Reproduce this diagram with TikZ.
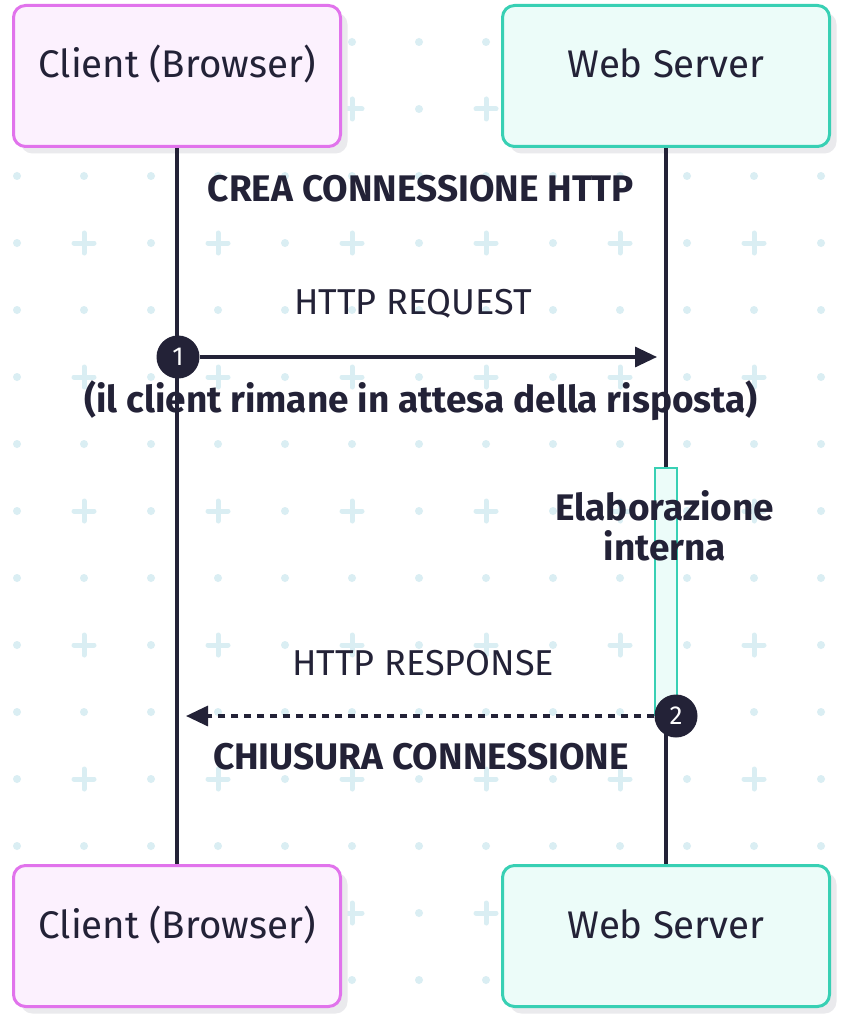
\documentclass[tikz,border=0pt]{standalone}
\usepackage{fontspec}
\setmainfont{Fira Sans}
\usetikzlibrary{arrows.meta,shadows}
\definecolor{inkdark}{RGB}{35, 34, 55}
\definecolor{clientpink}{RGB}{225, 115, 236}
\definecolor{clientfill}{RGB}{252, 241, 254}
\definecolor{serverteal}{RGB}{56, 208, 180}
\definecolor{serverfill}{RGB}{236, 252, 249}
\definecolor{gridblue}{RGB}{218, 238, 243}
\definecolor{shadowgray}{RGB}{234, 234, 237}

\begin{document}
\begin{tikzpicture}[x=1pt, y=-1pt,
    actor/.style={draw, line width=3pt, rounded corners=12pt, minimum width=327pt,
        minimum height=141pt, text height=32pt, text depth=28pt, text=inkdark,
        font=\fontsize{38.5}{42}\selectfont,
        drop shadow={shadow xshift=7pt, shadow yshift=-7pt, fill=shadowgray, opacity=1}},
    lifeline/.style={draw=inkdark, line width=3.3pt},
    msg/.style={draw=inkdark, line width=3.3pt, -{Triangle[length=22pt,width=20pt]}},
    seqnum/.style={circle, fill=inkdark, text=white, minimum size=43pt, inner sep=0pt,
        font=\fontsize{26}{30}\selectfont},
    msgtext/.style={text=inkdark, font=\fontsize{36}{40}\selectfont},
    notetext/.style={text=inkdark, font=\fontsize{37}{40}\selectfont\bfseries, align=center}]
    \useasboundingbox[fill=white] (0,0) rectangle (851,1024);

    % background pattern
    \foreach \i in {0,...,12} {
        \foreach \j in {0,...,14} {
            \pgfmathparse{int(mod(\i,2)*mod(\j,2))}
            \ifnum\pgfmathresult=1
                \draw[gridblue, line width=5pt, line cap=round]
                    (17+67*\i-10, 42+67*\j) -- (17+67*\i+10, 42+67*\j)
                    (17+67*\i, 42+67*\j-10) -- (17+67*\i, 42+67*\j+10);
            \else
                \fill[gridblue] (17+67*\i, 42+67*\j) circle (4pt);
            \fi
        }
    }

    % participants
    \node[actor, draw=clientpink, fill=clientfill] (clienttop) at (177, 76) {Client (Browser)};
    \node[actor, draw=serverteal, fill=serverfill] (servertop) at (666, 76) {Web Server};
    \node[actor, draw=clientpink, fill=clientfill] (clientbot) at (177, 936) {Client (Browser)};
    \node[actor, draw=serverteal, fill=serverfill] (serverbot) at (666, 936) {Web Server};

    % lifelines
    \draw[lifeline] (clienttop) -- (clientbot);
    \draw[lifeline] (servertop) -- (serverbot);

    % activation
    \node[draw=serverteal, fill=serverfill, line width=2pt, minimum width=22pt,
        minimum height=247pt, inner sep=0pt] (busy) at (666, 591.5) {};

    % messages
    \node[notetext] (open) at (421, 189) {CREA CONNESSIONE HTTP};
    \node[msgtext] (reqlabel) at (413, 304) {HTTP REQUEST};
    \node[seqnum] (n1) at (178, 357) {1};
    \coordinate (reqend) at (657, 357);
    \draw[msg] (n1.east) -- (reqend);
    \node[notetext] (wait) at (421, 401) {(il client rimane in attesa della risposta)};

    \node[notetext] (work) at (665, 526) {Elaborazione\\interna};

    \node[msgtext] (resplabel) at (423, 663) {HTTP RESPONSE};
    \node[seqnum] (n2) at (676, 716) {2};
    \coordinate (respend) at (186, 716);
    \draw[msg, dash pattern=on 7pt off 6pt] (n2.west) -- (respend);
    \node[notetext] (close) at (421, 757) {CHIUSURA CONNESSIONE};
\end{tikzpicture}
\end{document}
